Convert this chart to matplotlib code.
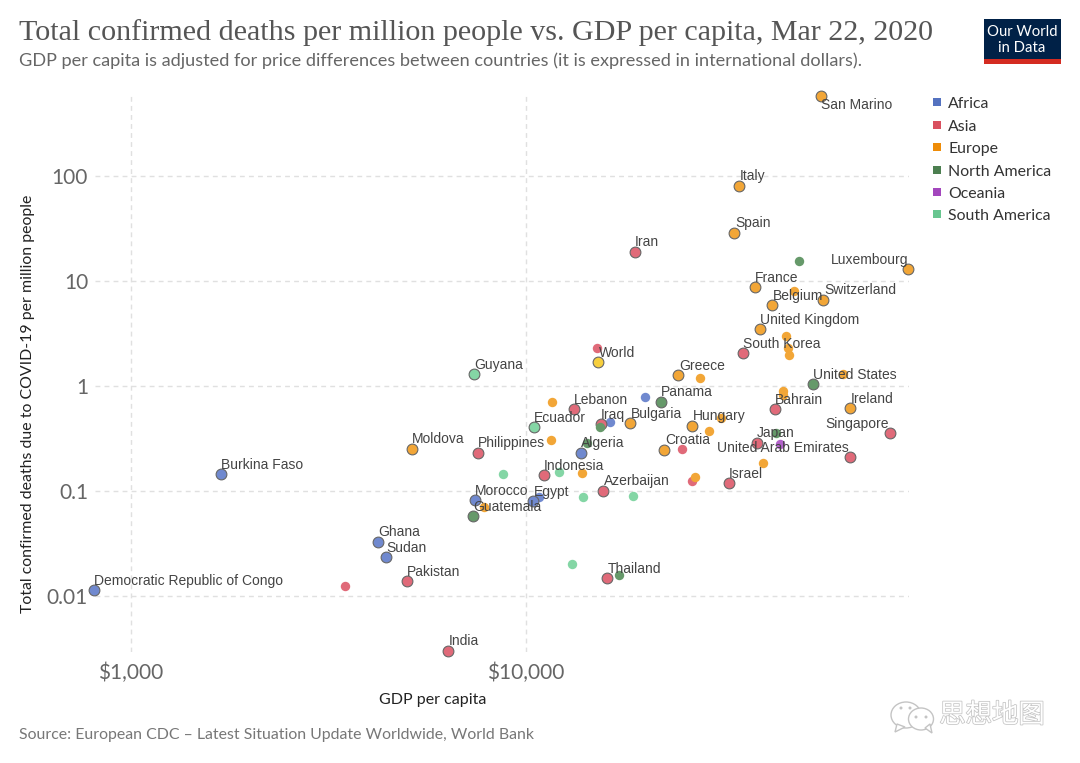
import matplotlib
matplotlib.use("Agg")
import matplotlib.pyplot as plt
import matplotlib.patheffects as pe
from matplotlib.patches import Ellipse, Polygon, Rectangle

# GDP per capita, deaths per million and name (empty = no label on the chart)
africa_gdp = [1690, 806, 4220, 4425, 7430, 10420, 10790, 13770, 16340, 20000]
africa_deaths = [0.145, 0.0114, 0.0327, 0.0235, 0.082, 0.080, 0.0877, 0.230, 0.454, 0.785]
africa_names = ["Burkina Faso", "Democratic Republic of Congo", "Ghana", "Sudan", "Morocco",
                "Egypt", "", "Algeria", "", ""]

asia_gdp = [6350, 5000, 3480, 7550, 11120, 15660, 16030, 13240, 15490, 18880, 15140,
            35400, 24830, 26300, 32660, 38460, 42660, 66070, 83600]
asia_deaths = [0.003, 0.0139, 0.01245, 0.230, 0.142, 0.1, 0.0148, 0.604, 0.435, 18.9, 2.30,
               2.06, 0.251, 0.1245, 0.119, 0.2865, 0.604, 0.211, 0.356]
asia_names = ["India", "Pakistan", "", "Philippines", "Indonesia", "Azerbaijan", "Thailand",
              "Lebanon", "Iraq", "Iran", "", "South Korea", "", "", "Israel", "Japan", "Bahrain",
              "United Arab Emirates", "Singapore"]

europe_gdp = [55800, 34590, 33650, 92700, 38000, 47640, 41980, 56500, 39080, 45500, 46000,
              46350, 24280, 27600, 63500, 44800, 44800, 66070, 11640, 18320, 31200, 26300,
              29040, 11560, 22340, 39810, 13870, 26790, 5140, 7830]
europe_deaths = [578, 80.3, 28.7, 13.0, 8.77, 8.03, 5.90, 6.59, 3.49, 2.99, 2.30,
                 1.97, 1.27, 1.19, 1.30, 0.896, 0.82, 0.617, 0.705, 0.445, 0.496, 0.416,
                 0.373, 0.306, 0.246, 0.185, 0.148, 0.136, 0.251, 0.0705]
europe_names = ["San Marino", "Italy", "Spain", "Luxembourg", "France", "", "Belgium",
                "Switzerland", "United Kingdom", "", "", "", "Greece", "", "", "", "", "Ireland",
                "", "Bulgaria", "", "Hungary", "", "", "Croatia", "", "", "", "Moldova", ""]

namerica_gdp = [49090, 53330, 21980, 15380, 14270, 7350, 17180, 42950]
namerica_deaths = [15.5, 1.045, 0.705, 0.407, 0.2865, 0.0578, 0.0158, 0.356]
namerica_names = ["", "United States", "Panama", "", "", "Guatemala", "", ""]

oceania_gdp = [43950]
oceania_deaths = [0.28]
oceania_names = [""]

samerica_gdp = [7380, 10470, 8750, 12130, 13930, 18660, 13060]
samerica_deaths = [1.30, 0.407, 0.145, 0.152, 0.0877, 0.0896, 0.0202]
samerica_names = ["Guyana", "Ecuador", "", "", "", "", ""]

world_gdp = [15200]
world_deaths = [1.69]
world_names = ["World"]

continents = ["Africa", "Asia", "Europe", "North America", "Oceania", "South America"]
colors = ["#7089cf", "#e06a79", "#f2a637", "#66996a", "#b262ca", "#84d6a5"]
legend_colors = ["#5472c0", "#d9505f", "#ee8c08", "#4c7f50", "#a346bd", "#68c690"]

# label offsets in pixels where the label is not just above the point
right_aligned = ["United Arab Emirates", "Singapore", "Luxembourg"]
label_offsets = {"San Marino": (0, -8), "Ghana": (0, 11), "Algeria": (0, 11), "Panama": (0, 11),
                 "India": (1, 11), "Philippines": (0, 11), "Azerbaijan": (1, 11), "Thailand": (1, 10),
                 "Iran": (0, 11), "Japan": (0, 11), "Italy": (1, 11), "Spain": (1, 11),
                 "Belgium": (1, 10), "Switzerland": (1, 11), "Greece": (1, 10), "Ireland": (1, 10),
                 "Bulgaria": (1, 10), "Hungary": (1, 11), "Croatia": (1, 11), "Moldova": (0, 11),
                 "Egypt": (1, 10), "World": (1, 10), "United Arab Emirates": (-1, 10),
                 "Singapore": (-1, 10)}

W, H = 1080, 763
fig = plt.figure(figsize=(W / 100, H / 100), dpi=100)

# plot area in pixels, limits follow from $1,000 at x=131, $10,000 at x=526, 100 at y=176, 0.01 at y=596
left, right, top, bottom = 95, 909, 96, 652
ax = fig.add_axes([left / W, 1 - bottom / H, (right - left) / W, (bottom - top) / H])
ax.set_xscale("log")
ax.set_yscale("log")
ax.set_xlim(10 ** (3 + (left - 131) / 395), 10 ** (3 + (right - 131) / 395))
ax.set_ylim(10 ** (2 - (bottom - 176) / 105), 10 ** (2 - (top - 176) / 105))

ax.set_xticks([1000, 10000])
ax.set_xticklabels(["$1,000", "$10,000"])
ax.set_yticks([0.01, 0.1, 1, 10, 100])
ax.set_yticklabels(["0.01", "0.1", "1", "10", "100"])
ax.minorticks_off()
ax.tick_params(length=0, labelsize=15, labelcolor="#666666", labelfontfamily="Lato")
ax.tick_params(axis="x", pad=7.5)
ax.tick_params(axis="y", pad=5)
ax.grid(True, color="#e0e0e0", linestyle=(0, (3.5, 3)), linewidth=1.0)
ax.set_axisbelow(True)
for s in ax.spines.values():
    s.set_visible(False)


def draw_points(gdp, deaths, names, color, small_z=3):
    small_x = [g for g, n in zip(gdp, names) if not n]
    small_y = [d for d, n in zip(deaths, names) if not n]
    big_x = [g for g, n in zip(gdp, names) if n]
    big_y = [d for d, n in zip(deaths, names) if n]
    ax.scatter(small_x, small_y, s=46, c=color, linewidths=0, zorder=small_z, clip_on=False)
    ax.scatter(big_x, big_y, s=60, c=color, edgecolors="#666666", linewidths=0.8, zorder=4, clip_on=False)
    for g, d, n in zip(gdp, deaths, names):
        if n:
            ha = "right" if n in right_aligned else "left"
            dx, dy = label_offsets.get(n, (0, 10))
            ax.annotate(n, (g, d), xytext=(dx, dy - 1), textcoords="offset pixels",
                        ha=ha, va="center", fontsize=10, color="#444444",
                        family="Liberation Sans", zorder=5, annotation_clip=False)


draw_points(africa_gdp, africa_deaths, africa_names, colors[0])
draw_points(asia_gdp, asia_deaths, asia_names, colors[1])
draw_points(europe_gdp, europe_deaths, europe_names, colors[2])
draw_points(namerica_gdp, namerica_deaths, namerica_names, colors[3], small_z=4.5)
draw_points(oceania_gdp, oceania_deaths, oceania_names, colors[4])
draw_points(samerica_gdp, samerica_deaths, samerica_names, colors[5])
draw_points(world_gdp, world_deaths, world_names, "#f7cf3d")

# everything around the plot, in pixel coordinates
ov = fig.add_axes([0, 0, 1, 1], zorder=10)
ov.set_xlim(0, W)
ov.set_ylim(H, 0)
ov.axis("off")

ov.text(19, 33, "Total confirmed deaths per million people vs. GDP per capita, Mar 22, 2020",
        fontsize=21.6, family="Liberation Serif", color="#555555", va="center")
ov.text(19, 61, "GDP per capita is adjusted for price differences between countries (it is expressed in international dollars).",
        fontsize=13.1, family="Lato", color="#666666", va="center")
ov.text(433, 700, "GDP per capita", fontsize=11.5, family="Lato", color="#222222", ha="center", va="center")
ov.text(28, 404, "Total confirmed deaths due to COVID-19 per million people", fontsize=11.43, family="Lato",
        color="#222222", rotation=90, ha="center", va="center")
ov.text(19, 735, "Source: European CDC – Latest Situation Update Worldwide, World Bank",
        fontsize=11.45, family="Lato", color="#777777", va="center")

# logo
ov.add_patch(Rectangle((984, 19), 77, 45, color="#002147", lw=0))
ov.add_patch(Rectangle((984, 59), 77, 5, color="#d42b21", lw=0))
ov.text(1022, 32, "Our World", fontsize=10.7, family="Lato", color="white", ha="center", va="center")
ov.text(1022, 48, "in Data", fontsize=10.7, family="Lato", color="white", ha="center", va="center")

# legend
legend_y = [102, 125, 147, 170, 192, 214]
for name, c, y in zip(continents, legend_colors, legend_y):
    ov.add_patch(Rectangle((933, y - 4), 8, 8, color=c, lw=0))
    ov.text(948, y + 2, name, fontsize=11.45, family="Lato", color="#333333", va="center")

# watermark
mark = "#c4c4c4"
ov.add_patch(Ellipse((906, 715), 30, 26, fc="white", ec=mark, lw=1))
ov.add_patch(Polygon([(897, 724), (895, 732), (905, 727)], fc="white", ec=mark, lw=1))
ov.add_patch(Ellipse((921, 719), 25, 22, fc="white", ec=mark, lw=1))
ov.add_patch(Polygon([(925, 728), (932, 733), (930, 724)], fc="white", ec=mark, lw=1))
for px, py in [(901, 708), (910, 708), (916, 717), (926, 717)]:
    ov.add_patch(Ellipse((px, py), 3, 3, fc=mark, lw=0))
ov.text(992, 715, "思想地图", fontsize=19, family="Noto Sans CJK SC", color="white", ha="center", va="center",
        path_effects=[pe.withStroke(linewidth=1.1, foreground=mark)])

fig.savefig("out.png", dpi=100)
